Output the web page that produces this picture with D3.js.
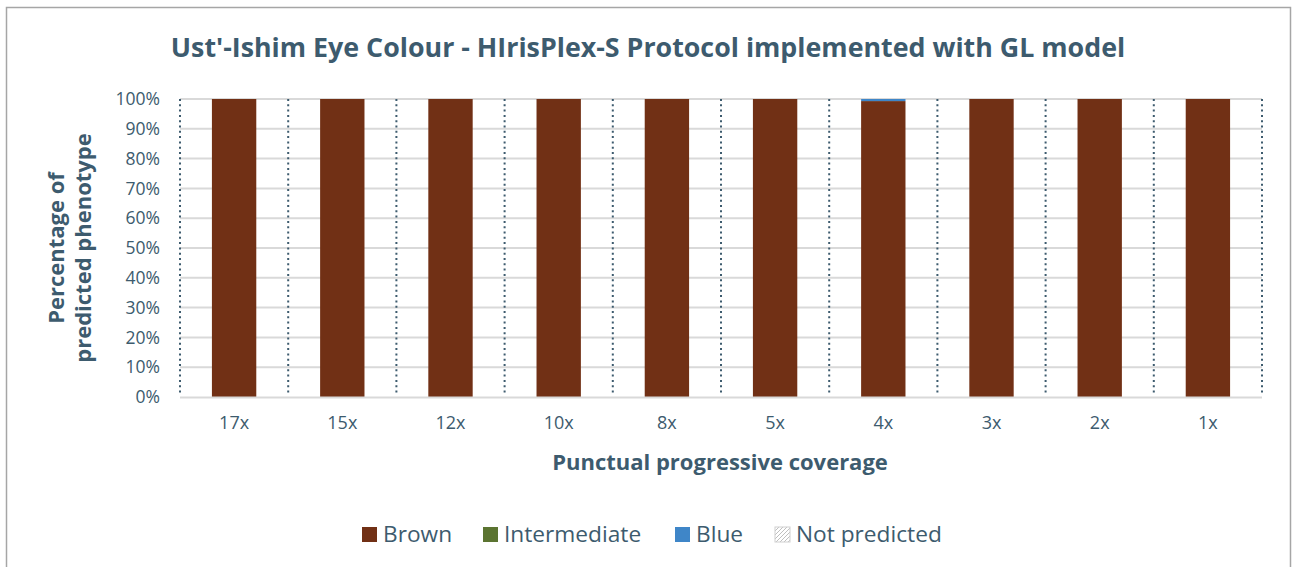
<!DOCTYPE html>
<html>
<head>
<meta charset="utf-8">
<script src="https://cdn.jsdelivr.net/npm/d3@7"></script>
<style>
  html, body { margin: 0; padding: 0; background: #fff; }
  svg { display: block; }
</style>
</head>
<body>
<svg id="chart" width="1292" height="567"></svg>
<script>
// Coverage levels (categories along the x axis)
const coverages = ["17x", "15x", "12x", "10x", "8x", "5x", "4x", "3x", "2x", "1x"];

// Percentage of predicted phenotype per coverage level
const brown        = [100, 100, 100, 100, 100, 100, 99.3, 100, 100, 100];
const intermediate = [0, 0, 0, 0, 0, 0, 0, 0, 0, 0];
const blue         = [0, 0, 0, 0, 0, 0, 0.7, 0, 0, 0];
const notPredicted = [0, 0, 0, 0, 0, 0, 0, 0, 0, 0];

const seriesNames = ["Brown", "Intermediate", "Blue", "Not predicted"];
const yTicks = [0, 10, 20, 30, 40, 50, 60, 70, 80, 90, 100];

const textColor = "#3d5b6e";
const colors = {
  "Brown": "#713015",
  "Intermediate": "#5b7431",
  "Blue": "#3f86c8",
  "Not predicted": "url(#hatch)"
};

const rows = coverages.map((c, i) => ({
  coverage: c,
  "Brown": brown[i],
  "Intermediate": intermediate[i],
  "Blue": blue[i],
  "Not predicted": notPredicted[i]
}));

const svg = d3.select("#chart");
const font = "'Open Sans', sans-serif";

// Hatch pattern for "Not predicted"
const defs = svg.append("defs");
const pat = defs.append("pattern")
  .attr("id", "hatch").attr("patternUnits", "userSpaceOnUse")
  .attr("width", 4).attr("height", 4);
pat.append("rect").attr("width", 4).attr("height", 4).attr("fill", "#fff");
pat.append("path").attr("d", "M-1,1 l2,-2 M0,4 l4,-4 M3,5 l2,-2")
  .attr("stroke", "#bfbfbf").attr("stroke-width", 1);

// Chart frame
svg.append("rect")
  .attr("x", 6.5).attr("y", 7.5).attr("width", 1284).attr("height", 580)
  .attr("fill", "none").attr("stroke", "#a6a6a6").attr("stroke-width", 1.5);

const plot = { left: 180, right: 1262, top: 99, bottom: 397 };

const x = d3.scaleBand().domain(coverages)
  .range([plot.left, plot.right]).paddingInner(0.59).paddingOuter(0.295);
const xb = d3.scaleBand().domain(coverages).range([plot.left, plot.right]);
const y = d3.scaleLinear().domain([0, 100]).range([plot.bottom, plot.top]);

// Horizontal gridlines
svg.append("g").selectAll("line").data(yTicks.filter(t => t > 0)).join("line")
  .attr("x1", plot.left).attr("x2", plot.right)
  .attr("y1", d => y(d)).attr("y2", d => y(d))
  .attr("stroke", "#d9d9d9").attr("stroke-width", 2);

// Dotted category separators
const seps = coverages.map(c => xb(c)).concat([plot.right]);
svg.append("g").selectAll("line").data(seps).join("line")
  .attr("x1", d => d).attr("x2", d => d)
  .attr("y1", plot.top).attr("y2", plot.bottom - 4)
  .attr("stroke", "#3d5b6e").attr("stroke-width", 2)
  .attr("stroke-dasharray", "2,3.3");

// Stacked bars
const stack = d3.stack().keys(seriesNames)(rows);
svg.append("g").selectAll("g").data(stack).join("g")
  .attr("fill", d => colors[d.key])
  .selectAll("rect").data(d => d).join("rect")
  .attr("x", d => x(d.data.coverage))
  .attr("width", x.bandwidth())
  .attr("y", d => y(d[1]))
  .attr("height", d => Math.max(0, y(d[0]) - y(d[1])));

// X axis baseline
svg.append("line")
  .attr("x1", plot.left).attr("x2", plot.right)
  .attr("y1", plot.bottom + 0.5).attr("y2", plot.bottom + 0.5)
  .attr("stroke", "#d9d9d9").attr("stroke-width", 2);

// Y axis
const yAxis = svg.append("g")
  .attr("transform", `translate(${plot.left},0)`)
  .call(d3.axisLeft(y).tickValues(yTicks).tickFormat(d => d + "%").tickSize(0).tickPadding(20));
yAxis.select(".domain").remove();
yAxis.selectAll("text").attr("fill", textColor)
  .style("font-family", font).style("font-size", "17.5px");

// X axis
const xAxis = svg.append("g")
  .attr("transform", `translate(0,${plot.bottom})`)
  .call(d3.axisBottom(xb).tickSize(0).tickPadding(19));
xAxis.select(".domain").remove();
xAxis.selectAll("text").attr("fill", textColor)
  .style("font-family", font).style("font-size", "18px");

// Title
svg.append("text")
  .attr("x", 648).attr("y", 57).attr("text-anchor", "middle")
  .attr("fill", textColor).style("font-family", font)
  .style("font-size", "26.8px").style("font-weight", "bold")
  .text("Ust'-Ishim Eye Colour - HIrisPlex-S Protocol implemented with GL model");

// Axis titles
svg.append("text")
  .attr("x", 720).attr("y", 470).attr("text-anchor", "middle")
  .attr("fill", textColor).style("font-family", font)
  .style("font-size", "22px").style("font-weight", "bold")
  .text("Punctual progressive coverage");

const yt = svg.append("text")
  .attr("transform", "translate(0,248) rotate(-90)")
  .attr("text-anchor", "middle")
  .attr("fill", textColor).style("font-family", font)
  .style("font-size", "22px").style("font-weight", "bold");
yt.append("tspan").attr("x", 0).attr("y", 64).text("Percentage of");
yt.append("tspan").attr("x", 0).attr("y", 91).text("predicted phenotype");

// Legend
const legendX = [362, 483, 675, 775];
const legend = svg.append("g").selectAll("g").data(seriesNames).join("g")
  .attr("transform", (d, i) => `translate(${legendX[i]},527)`);
legend.append("rect")
  .attr("width", 15).attr("height", 15)
  .attr("fill", d => colors[d])
  .attr("stroke", d => d === "Not predicted" ? "#d0d0d0" : "none");
legend.append("text")
  .attr("x", 21).attr("y", 15)
  .attr("fill", textColor).style("font-family", font).style("font-size", "22.7px")
  .text(d => d);
</script>
</body>
</html>
